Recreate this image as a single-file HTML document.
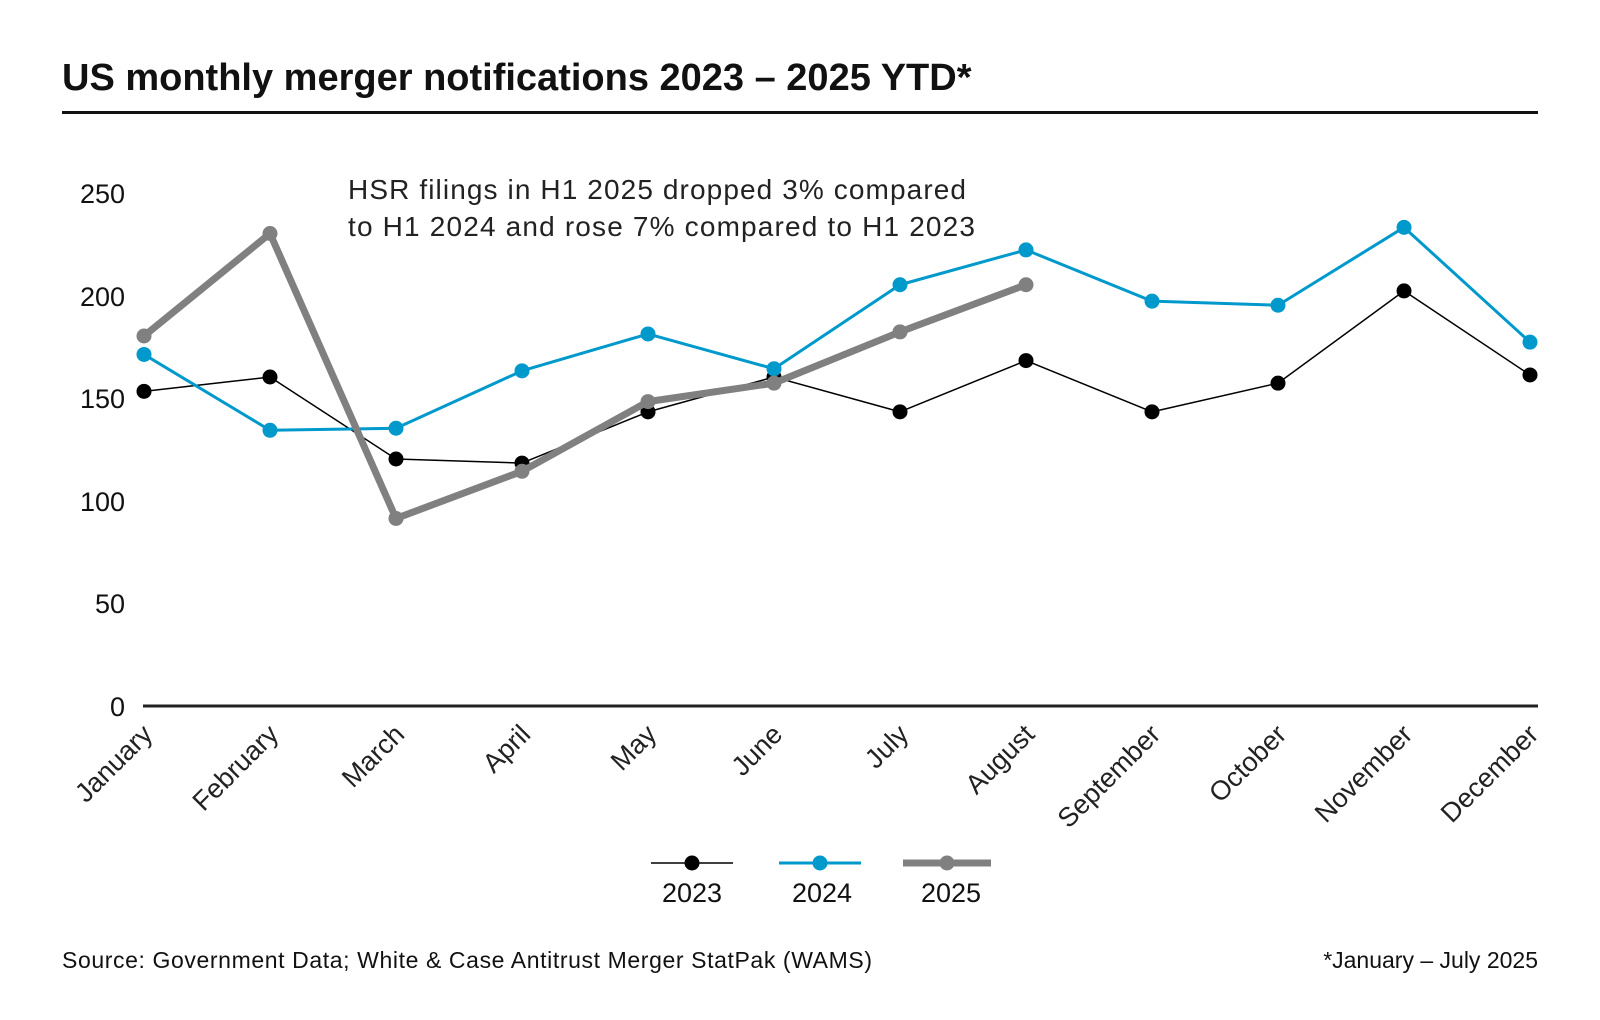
<!DOCTYPE html>
<html><head><meta charset="utf-8"><style>
body{margin:0;background:#fff;}
svg{display:block;font-family:"Liberation Sans",Arial,sans-serif;}
</style></head><body>
<svg width="1600" height="1020" viewBox="0 0 1600 1020" xmlns="http://www.w3.org/2000/svg">
<text x="62" y="90" font-size="38" font-weight="bold" fill="#111">US monthly merger notifications 2023 – 2025 YTD*</text>
<rect x="62" y="111" width="1476" height="3" fill="#111"/>
<text x="348" y="199" font-size="28" fill="#222" textLength="618">HSR filings in H1 2025 dropped 3% compared</text>
<text x="348" y="236" font-size="28" fill="#222" textLength="627">to H1 2024 and rose 7% compared to H1 2023</text>
<g font-size="27" fill="#111" text-anchor="end">
<text x="125" y="203">250</text><text x="125" y="306">200</text><text x="125" y="408">150</text>
<text x="125" y="511">100</text><text x="125" y="613">50</text><text x="125" y="716">0</text>
</g>
<line x1="143" y1="706" x2="1538" y2="706" stroke="#222" stroke-width="3"/>
<g id="c"></g>
<g font-size="27" fill="#222" text-anchor="end" id="xl"></g>
<g>
<line x1="651" y1="863" x2="733" y2="863" stroke="#000" stroke-width="1.5"/><circle cx="692" cy="863" r="7.5" fill="#000"/>
<line x1="779" y1="863" x2="861" y2="863" stroke="#0099cc" stroke-width="3"/><circle cx="820" cy="863" r="7.5" fill="#0099cc"/>
<line x1="903" y1="863" x2="991" y2="863" stroke="#808080" stroke-width="7"/><circle cx="947" cy="863" r="7.5" fill="#808080"/>
<g font-size="27" fill="#111" text-anchor="middle"><text x="692" y="902">2023</text><text x="822" y="902">2024</text><text x="951" y="902">2025</text></g>
</g>
<text x="62" y="968" font-size="23" fill="#111" textLength="810">Source: Government Data; White &amp; Case Antitrust Merger StatPak (WAMS)</text>
<text x="1538" y="968" font-size="23" fill="#111" text-anchor="end">*January – July 2025</text>
</svg>
<script>
var ns="http://www.w3.org/2000/svg",g=document.getElementById('c'),xl=document.getElementById('xl');
function X(i){return 144+i*126;}function Y(v){return 705-v*2.05;}
var S=[[[153,160,120,118,143,160,143,168,143,157,202,161],"#000",1.5],
[[171,134,135,163,181,164,205,222,197,195,233,177],"#0099cc",3],
[[180,230,91,114,148,157,182,205],"#808080",7]];
S.forEach(function(s){var p=s[0].map(function(v,i){return X(i)+","+Y(v)}).join(" ");
var pl=document.createElementNS(ns,"polyline");pl.setAttribute("points",p);pl.setAttribute("fill","none");pl.setAttribute("stroke",s[1]);pl.setAttribute("stroke-width",s[2]);pl.setAttribute("stroke-linejoin","round");g.appendChild(pl);
s[0].forEach(function(v,i){var c=document.createElementNS(ns,"circle");c.setAttribute("cx",X(i));c.setAttribute("cy",Y(v));c.setAttribute("r",7.5);c.setAttribute("fill",s[1]);g.appendChild(c);});});
["January","February","March","April","May","June","July","August","September","October","November","December"].forEach(function(m,i){
var t=document.createElementNS(ns,"text");var x=X(i)+10,y=736;t.setAttribute("x",x);t.setAttribute("y",y);t.setAttribute("transform","rotate(-45 "+x+" "+y+")");t.textContent=m;xl.appendChild(t);});
</script>
</body></html>
